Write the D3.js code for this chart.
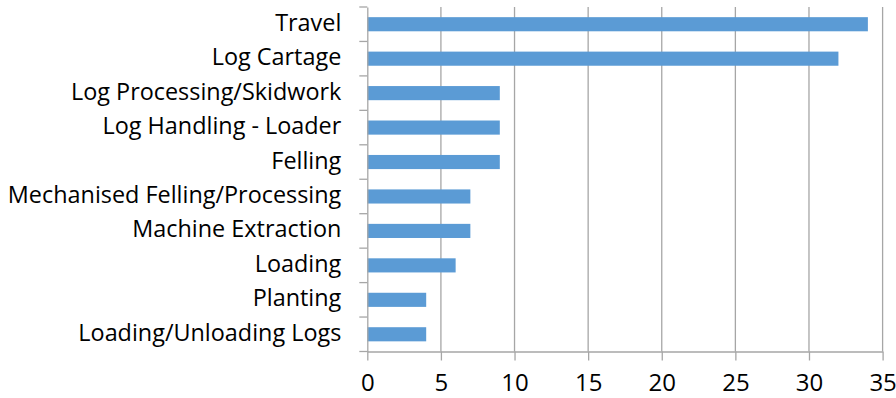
<!DOCTYPE html>
<html><head><meta charset="utf-8">
<script src="https://cdn.jsdelivr.net/npm/d3@7"></script>
<style>html,body{margin:0;padding:0;background:#fff;}svg{display:block;}</style>
</head><body>
<svg id="chart" width="896" height="398"></svg>
<script>
const categories = ["Travel","Log Cartage","Log Processing/Skidwork","Log Handling - Loader","Felling","Mechanised Felling/Processing","Machine Extraction","Loading","Planting","Loading/Unloading Logs"];
const values = [34,32,9,9,9,7,7,6,4,4];
const xTicks = [0,5,10,15,20,25,30,35];

(function(){
const svg = d3.select("#chart");
const pLeft = 367.3, pRight = 882.6, pTop = 7, pBottom = 351.5;
const font = "'Open Sans', sans-serif";

const x = d3.scaleLinear().domain([0,35]).range([pLeft,pRight]);
const y = d3.scaleBand().domain(categories).range([pTop,pBottom]).paddingInner(0.59).paddingOuter(0.295);
const yb = d3.scaleBand().domain(categories).range([pTop,pBottom]);

// gridlines
svg.append("g").selectAll("line").data(xTicks.slice(1)).join("line")
  .attr("x1",d=>x(d)).attr("x2",d=>x(d)).attr("y1",pTop).attr("y2",pBottom)
  .attr("stroke","#a6a6a6").attr("stroke-width",1.3);

// bars
svg.append("g").selectAll("rect").data(values).join("rect")
  .attr("x",x(0)).attr("y",(d,i)=>y(categories[i]))
  .attr("width",d=>x(d)-x(0)).attr("height",y.bandwidth())
  .attr("fill","#5b9bd5");

// x axis
const xa = svg.append("g").attr("transform",`translate(0,${pBottom})`)
  .call(d3.axisBottom(x).tickValues(xTicks).tickSize(9).tickPadding(13).tickSizeOuter(0));
xa.select(".domain").attr("stroke","#a6a6a6").attr("stroke-width",1.3);
xa.selectAll(".tick line").attr("stroke","#a6a6a6").attr("stroke-width",1.3);
xa.selectAll("text").attr("font-family",font).attr("font-size",24).attr("fill","#000");

// y axis
const ya = svg.append("g").attr("transform",`translate(${pLeft},0)`)
  .call(d3.axisLeft(yb).tickSize(0).tickPadding(26));
ya.select(".domain").attr("stroke","#a6a6a6").attr("stroke-width",1.3);
ya.selectAll("text").attr("font-family",font).attr("font-size",23.4).attr("dy","0.28em").attr("fill","#000");
// category boundary ticks
const bounds = categories.map(c=>yb(c)).concat([pBottom]);
svg.append("g").selectAll("line").data(bounds).join("line")
  .attr("x1",pLeft-8).attr("x2",pLeft).attr("y1",d=>d).attr("y2",d=>d)
  .attr("stroke","#a6a6a6").attr("stroke-width",1.3);
})();
</script>
</body></html>
